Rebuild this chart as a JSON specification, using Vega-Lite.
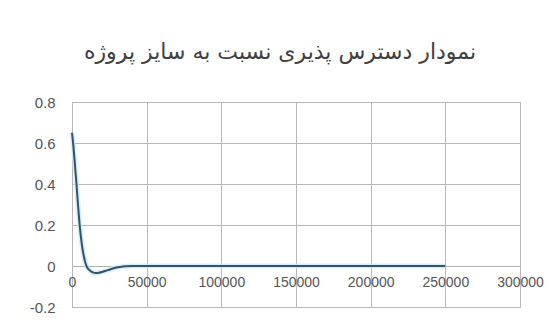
{
  "$schema": "https://vega.github.io/schema/vega-lite/v6.json",
  "autosize": {"type": "none"},
  "padding": {"left": 72, "top": 102, "right": 36, "bottom": 15},
  "width": 448,
  "height": 205,
  "background": "#ffffff",
  "title": {
    "text": "نمودار دسترس پذیری نسبت به سایز پروژه",
    "font": "DejaVu Sans",
    "fontSize": 22,
    "fontWeight": "normal",
    "color": "#404040",
    "anchor": "middle",
    "dx": -16,
    "offset": 31
  },
  "data": {
    "values": [
      {"size": 0, "availability": 0.65},
      {"size": 1000, "availability": 0.58},
      {"size": 2000, "availability": 0.49},
      {"size": 3000, "availability": 0.40},
      {"size": 4000, "availability": 0.30},
      {"size": 5000, "availability": 0.21},
      {"size": 6000, "availability": 0.14},
      {"size": 7000, "availability": 0.085},
      {"size": 8000, "availability": 0.045},
      {"size": 9000, "availability": 0.015},
      {"size": 10000, "availability": -0.005},
      {"size": 12000, "availability": -0.022},
      {"size": 14000, "availability": -0.031},
      {"size": 16000, "availability": -0.034},
      {"size": 18000, "availability": -0.033},
      {"size": 20000, "availability": -0.029},
      {"size": 24000, "availability": -0.02},
      {"size": 28000, "availability": -0.011},
      {"size": 32000, "availability": -0.005},
      {"size": 36000, "availability": -0.001},
      {"size": 40000, "availability": 0},
      {"size": 50000, "availability": 0},
      {"size": 100000, "availability": 0},
      {"size": 150000, "availability": 0},
      {"size": 200000, "availability": 0},
      {"size": 250000, "availability": 0}
    ]
  },
  "encoding": {
    "x": {
      "field": "size",
      "type": "quantitative",
      "scale": {"domain": [0, 300000], "nice": false, "zero": false},
      "axis": {
        "title": null,
        "values": [0, 50000, 100000, 150000, 200000, 250000, 300000],
        "format": "d",
        "offset": -41,
        "ticks": false,
        "domain": true,
        "domainColor": "#b0b0b0",
        "grid": true,
        "gridColor": "#b8b8b8",
        "labelOverlap": false,
        "labelFlush": false,
        "labelPadding": 9,
        "labelFont": "Liberation Sans",
        "labelFontSize": 14,
        "labelColor": "#555555"
      }
    },
    "y": {
      "field": "availability",
      "type": "quantitative",
      "scale": {"domain": [-0.2, 0.8], "nice": false, "zero": false},
      "axis": {
        "title": null,
        "values": [-0.2, 0, 0.2, 0.4, 0.6, 0.8],
        "labelExpr": "'' + datum.value",
        "ticks": false,
        "domain": false,
        "grid": true,
        "gridColor": "#b8b8b8",
        "labelOverlap": false,
        "labelFlush": false,
        "labelPadding": 17,
        "labelFont": "Liberation Sans",
        "labelFontSize": 15,
        "labelColor": "#555555"
      }
    }
  },
  "layer": [
    {
      "mark": {"type": "line", "interpolate": "monotone", "color": "#cdeaf4", "strokeWidth": 5, "opacity": 0.8}
    },
    {
      "mark": {"type": "line", "interpolate": "monotone", "color": "#34536b", "strokeWidth": 2}
    }
  ],
  "config": {
    "view": {"stroke": "#b8b8b8"}
  }
}
